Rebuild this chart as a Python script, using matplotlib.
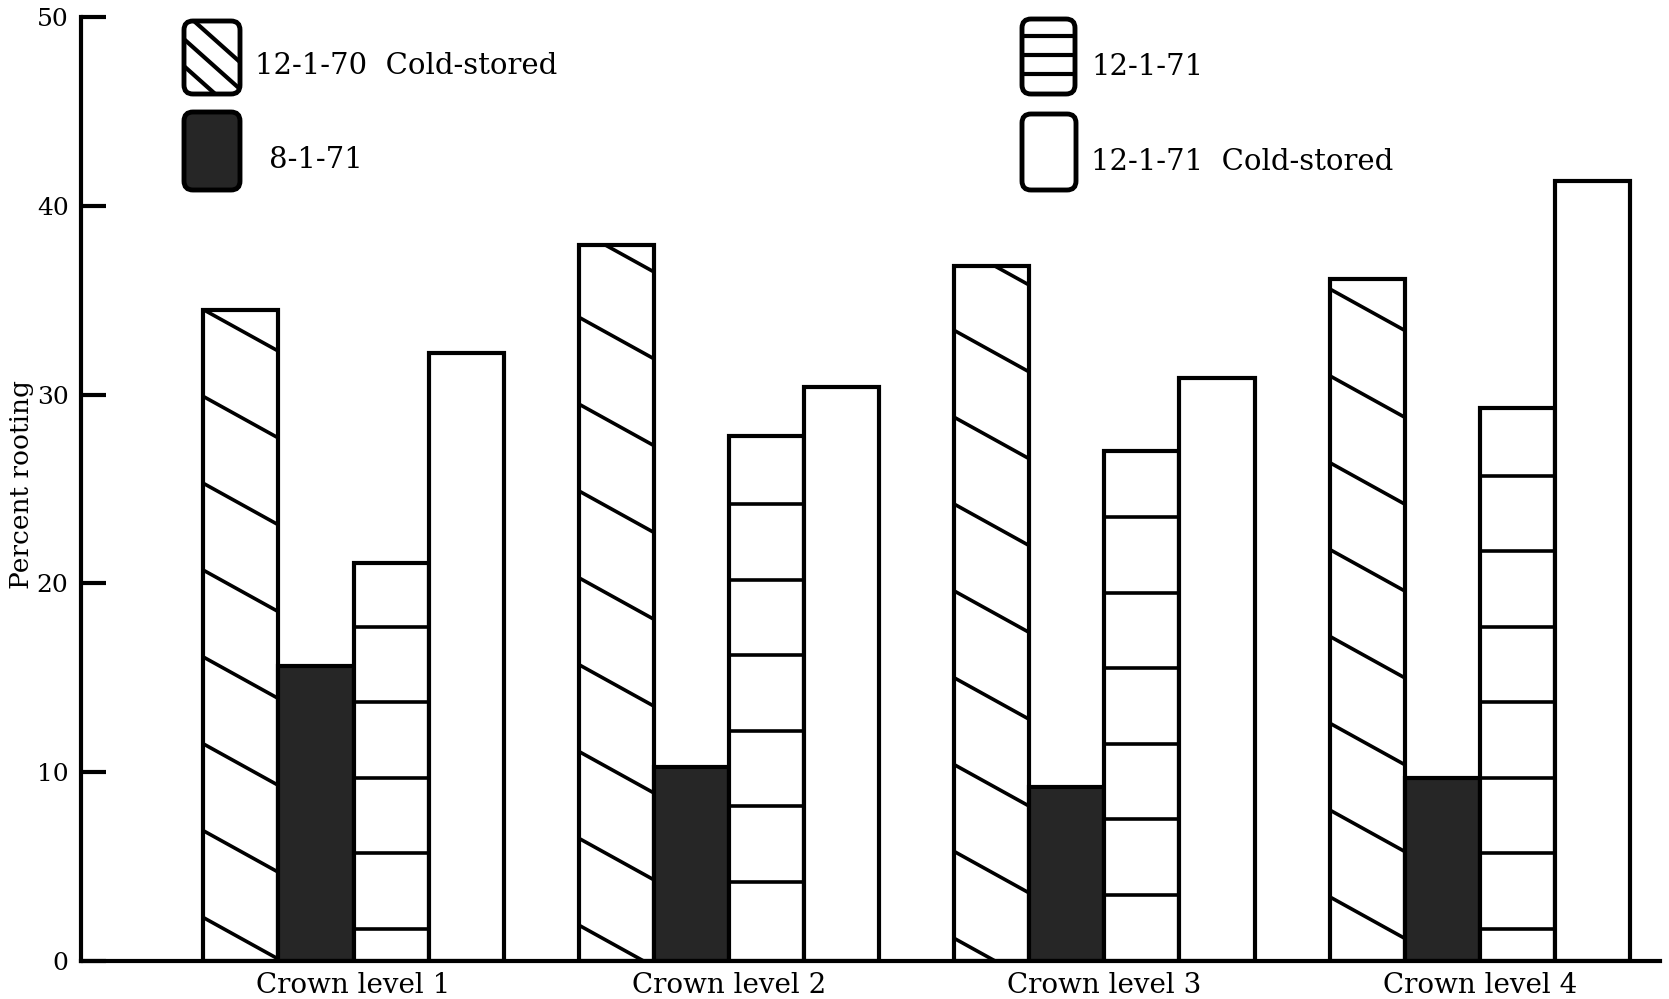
import matplotlib.pyplot as plt
import matplotlib as mpl
import matplotlib.transforms as mtransforms
from matplotlib.patches import FancyBboxPatch
import numpy as np

# Data
categories = ['Crown level 1', 'Crown level 2', 'Crown level 3', 'Crown level 4']
cold_70 = [34.5, 37.9, 36.8, 36.1]    # 12-1-70 Cold-stored
aug_71 = [15.6, 10.3, 9.2, 9.7]       # 8-1-71
dec_71 = [21.1, 27.8, 27.0, 29.3]     # 12-1-71
cold_71 = [32.2, 30.4, 30.9, 41.3]    # 12-1-71 Cold-stored
y_ticks = [0, 10, 20, 30, 40, 50]

# Hand-drawn hatch phases (where the top line meets the left edge)
diag_start = [34.5, 38.7, 38.0, 35.6]
horiz_start = [1.7, 4.2, 3.5, 1.7]

mpl.rcParams['font.family'] = 'DejaVu Serif'
W, H = 1669, 999

fig = plt.figure(figsize=(W / 100, H / 100), dpi=100)
ax = fig.add_axes([81 / W, 1 - 961 / H, (1660 - 81) / W, (961 - 17) / H])

x = np.arange(len(categories))
w = 0.2
lw = 3
edge = dict(edgecolor='black', linewidth=lw)

b1 = ax.bar(x - 1.5 * w, cold_70, w, facecolor='white', **edge)
b2 = ax.bar(x - 0.5 * w, aug_71, w, facecolor='#262626', **edge)
b3 = ax.bar(x + 0.5 * w, dec_71, w, facecolor='white', **edge)
b4 = ax.bar(x + 1.5 * w, cold_71, w, facecolor='white', **edge)

# diagonal hand hatching
drop = 2.2
for rect, start in zip(b1.patches, diag_start):
    xl = rect.get_x()
    xr = xl + rect.get_width()
    c = start
    while c > -drop - 1:
        ln, = ax.plot([xl - 0.05, xr + 0.05],
                      [c + drop * 0.25, c - drop * 1.25],
                      color='black', linewidth=2.6, solid_capstyle='butt')
        ln.set_clip_path(rect)
        c -= 4.6

# horizontal hand hatching
for rect, start in zip(b3.patches, horiz_start):
    xl = rect.get_x()
    xr = xl + rect.get_width()
    c = start
    while c < rect.get_height() - 0.5:
        ln, = ax.plot([xl, xr], [c, c], color='black', linewidth=2.6)
        ln.set_clip_path(rect)
        c += 4.0

# axes
ax.set_xlim(-0.726, 3.48)
ax.set_ylim(0, 50)
ax.set_yticks(y_ticks)
ax.set_xticks(x)
ax.set_xticklabels(categories, fontsize=20)
ax.tick_params(axis='x', length=0, pad=8)
ax.tick_params(axis='y', direction='in', length=18, width=3, pad=9,
               labelsize=18)
for side in ['top', 'right']:
    ax.spines[side].set_visible(False)
ax.spines['left'].set_linewidth(3)
ax.spines['bottom'].set_linewidth(3)
ax.set_ylabel('Percent rooting', fontsize=19)
ax.yaxis.set_label_coords(-0.030, 0.505)

# legend drawn by hand, pixel coordinates measured from the top
ident = mtransforms.IdentityTransform()


def legend_box(x0, y0, x1, y1, face='white'):
    p = FancyBboxPatch((x0, H - y1), x1 - x0, y1 - y0,
                       boxstyle='round,pad=0,rounding_size=9',
                       facecolor=face, edgecolor='black', linewidth=3.5,
                       transform=ident)
    fig.add_artist(p)
    return p


def legend_line(p, xa, ya, xb, yb):
    ln = mpl.lines.Line2D([xa, xb], [H - ya, H - yb], color='black',
                          linewidth=3, transform=ident)
    ln.set_clip_path(p)
    fig.add_artist(ln)


def legend_text(xp, yp, s):
    fig.text(xp / W, 1 - yp / H, s, fontsize=21, ha='left', va='center')


p1 = legend_box(184, 21, 240, 94)
for y0 in [12, 39, 66]:
    legend_line(p1, 176, y0 - 7, 250, y0 + 59)
legend_text(255, 66, '12-1-70  Cold-stored')

legend_box(184, 112, 240, 190, face='#262626')
legend_text(269, 160, '8-1-71')

p3 = legend_box(1022, 19, 1075, 94)
for y0 in [36, 55, 74]:
    legend_line(p3, 1015, y0, 1085, y0)
legend_text(1091, 67, '12-1-71')

legend_box(1022, 114, 1076, 190)
legend_text(1091, 162, '12-1-71  Cold-stored')

fig.savefig('out.png', dpi=100)
